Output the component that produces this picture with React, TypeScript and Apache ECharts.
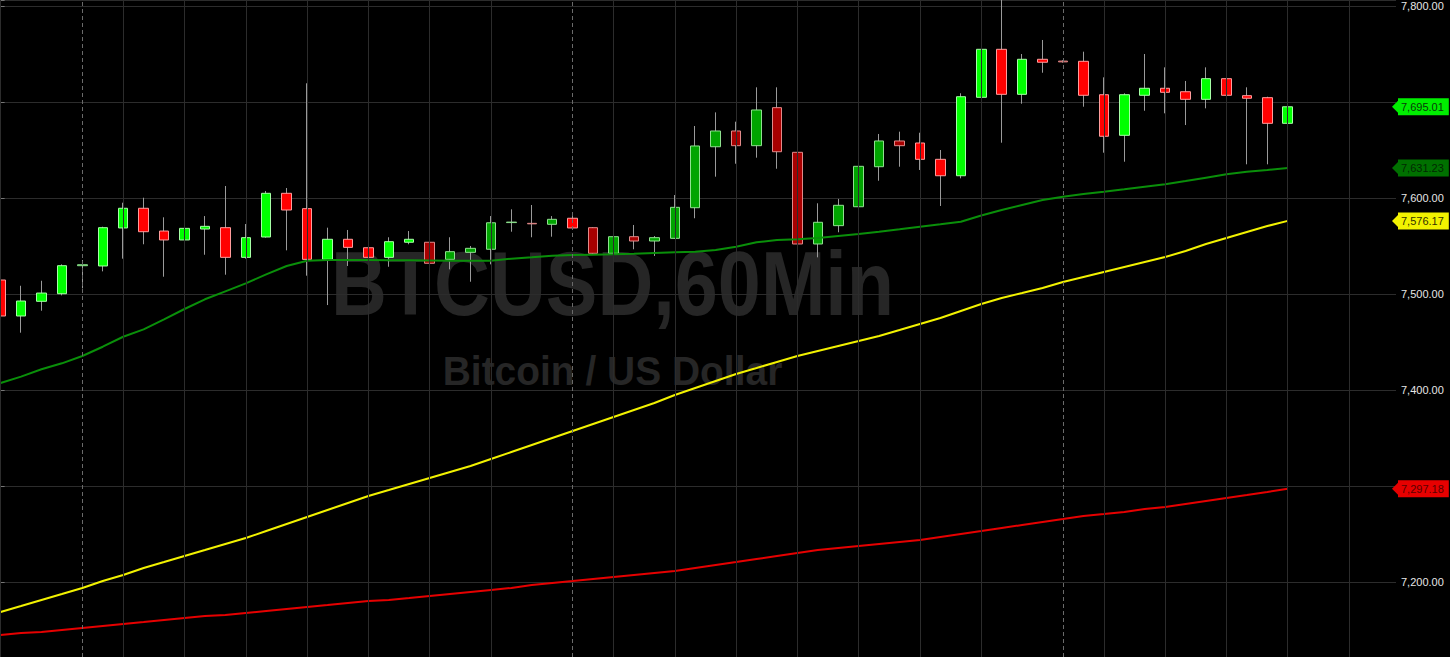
import React, { useEffect, useRef } from "react";
import * as echarts from "echarts";

// ---- data (hourly bars, index 0..63) ----
const opens = [
  7514.6, 7477.1, 7492.4, 7500.3, 7529.5, 7529.2, 7568.8, 7589.3, 7565.6, 7556.3,
  7567.7, 7569.1, 7538.2, 7559.4, 7604.9, 7588.9, 7536.1, 7557.0, 7548.2, 7538.2,
  7553.9, 7553.9, 7536.1, 7543.4, 7546.6, 7574.4, 7573.6, 7572.6, 7578.9, 7569.1,
  7542.4, 7559.7, 7555.2, 7558.0, 7589.9, 7653.4, 7669.8, 7654.5, 7694.1, 7647.6,
  7552.1, 7571.2, 7590.9, 7632.6, 7659.4, 7657.3, 7640.3, 7623.2, 7704.9, 7754.9,
  7708.0, 7744.5, 7742.6, 7742.4, 7707.6, 7665.3, 7707.0, 7714.3, 7710.7, 7702.8,
  7724.3, 7706.6, 7704.5, 7677.8,
];
const closes = [
  7477.1, 7492.7, 7501.0, 7529.5, 7530.5, 7569.1, 7589.3, 7564.9, 7556.3, 7568.4,
  7570.5, 7538.2, 7558.7, 7604.9, 7587.5, 7536.1, 7557.0, 7548.6, 7538.2, 7554.5,
  7557.0, 7532.0, 7544.1, 7547.6, 7574.2, 7574.9, 7573.1, 7577.8, 7568.8, 7542.4,
  7559.7, 7555.2, 7558.7, 7590.3, 7654.2, 7669.8, 7654.5, 7691.7, 7648.2, 7552.1,
  7574.7, 7592.4, 7633.0, 7659.4, 7654.5, 7640.3, 7623.2, 7705.5, 7754.9, 7708.0,
  7744.5, 7741.4, 7741.8, 7707.0, 7664.3, 7707.6, 7714.3, 7710.1, 7702.8, 7724.3,
  7707.0, 7703.9, 7677.8, 7695.01,
];
const lows = [
  7438.5, 7459.7, 7482.6, 7498.6, 7505.9, 7523.6, 7536.8, 7551.8, 7518.0, 7539.9,
  7540.9, 7520.1, 7536.8, 7558.7, 7545.5, 7519.1, 7488.5, 7529.2, 7530.9, 7528.4,
  7551.8, 7510.1, 7525.7, 7512.8, 7530.9, 7564.9, 7559.1, 7559.7, 7566.7, 7540.6,
  7534.4, 7546.6, 7539.6, 7557.3, 7578.9, 7622.2, 7635.7, 7642.0, 7630.5, 7489.6,
  7538.2, 7564.3, 7579.5, 7618.0, 7632.6, 7629.2, 7591.7, 7620.5, 7704.2, 7657.6,
  7698.2, 7730.5, 7741.0, 7695.1, 7647.2, 7637.8, 7690.9, 7688.2, 7676.0, 7693.4,
  7679.5, 7635.1, 7635.1, 7663.8,
];
const highs = [
  7521.9, 7508.6, 7513.8, 7530.9, 7535.4, 7570.1, 7595.1, 7600.3, 7579.9, 7577.1,
  7581.2, 7612.5, 7572.9, 7607.3, 7610.4, 7719.5, 7569.1, 7566.7, 7552.1, 7559.1,
  7565.6, 7557.0, 7559.1, 7550.0, 7581.2, 7588.2, 7592.7, 7581.2, 7581.2, 7569.8,
  7561.5, 7571.9, 7560.4, 7603.1, 7675.0, 7689.2, 7679.5, 7715.3, 7715.3, 7650.0,
  7594.5, 7599.0, 7639.6, 7666.7, 7669.1, 7668.0, 7650.0, 7709.1, 7801.0, 7812.0,
  7750.0, 7764.6, 7743.5, 7752.4, 7725.7, 7709.1, 7750.0, 7736.1, 7721.9, 7736.1,
  7737.5, 7715.3, 7705.5, 7695.8,
];
// "B" = bright candle, "D" = dim candle
const tones = [
  "B", "B", "B", "B", "D", "B", "B", "B", "B", "B",
  "B", "B", "B", "B", "B", "B", "B", "B", "B", "B",
  "B", "D", "D", "D", "D", "D", "D", "D", "B", "D",
  "D", "D", "D", "D", "D", "D", "D", "D", "D", "D",
  "D", "D", "D", "D", "D", "B", "B", "B", "B", "B",
  "B", "B", "D", "B", "B", "B", "B", "B", "B", "B",
  "B", "B", "B", "B",
];
const maFast = [
  7407.3, 7413.9, 7421.6, 7427.8, 7435.4, 7445.1, 7455.5, 7463.2, 7473.6, 7484.4,
  7494.5, 7502.8, 7511.1, 7520.5, 7529.2, 7534.7, 7535.4, 7535.4, 7535.4, 7535.1,
  7535.1, 7534.9, 7534.7, 7534.7, 7534.7, 7536.8, 7538.2, 7539.9, 7540.6, 7541.0,
  7541.4, 7542.0, 7542.7, 7543.4, 7544.1, 7545.8, 7549.3, 7553.9, 7556.3, 7557.0,
  7558.3, 7560.4, 7562.5, 7564.9, 7567.4, 7570.1, 7572.6, 7575.3, 7581.8, 7587.5,
  7592.7, 7597.9, 7601.4, 7604.2, 7606.6, 7609.1, 7611.8, 7614.3, 7617.7, 7621.2,
  7624.7, 7627.4, 7629.2, 7631.23,
];
const maMid = [
  7168.8, 7175.0, 7181.3, 7187.5, 7193.8, 7201.0, 7207.3, 7214.6, 7220.8, 7227.1,
  7233.3, 7239.6, 7245.8, 7253.1, 7260.4, 7267.7, 7275.0, 7282.3, 7289.6, 7295.8,
  7302.1, 7308.3, 7314.6, 7320.8, 7328.1, 7335.4, 7342.7, 7350.0, 7357.3, 7364.6,
  7371.9, 7379.2, 7386.5, 7394.8, 7402.1, 7409.4, 7416.7, 7422.9, 7429.2, 7435.4,
  7440.6, 7445.8, 7451.0, 7456.3, 7462.5, 7468.8, 7475.0, 7482.3, 7489.6, 7495.8,
  7501.0, 7506.3, 7512.5, 7517.7, 7522.9, 7528.1, 7533.3, 7538.5, 7544.8, 7552.1,
  7558.3, 7564.6, 7570.8, 7576.17,
];
const maSlow = [
  7144.8, 7146.9, 7147.9, 7150.0, 7152.1, 7154.2, 7156.3, 7158.3, 7160.4, 7162.5,
  7164.6, 7165.6, 7167.7, 7169.8, 7171.9, 7174.0, 7176.0, 7178.1, 7180.2, 7181.3,
  7183.3, 7185.4, 7187.5, 7189.6, 7191.7, 7193.8, 7196.9, 7199.0, 7201.0, 7203.1,
  7205.2, 7207.3, 7209.4, 7211.5, 7214.6, 7217.7, 7220.8, 7224.0, 7227.1, 7230.2,
  7233.3, 7235.4, 7237.5, 7239.6, 7241.7, 7243.8, 7246.9, 7250.0, 7253.1, 7256.3,
  7259.4, 7262.5, 7265.6, 7268.8, 7270.8, 7272.9, 7276.0, 7278.1, 7281.3, 7284.4,
  7287.5, 7290.6, 7293.8, 7297.18,
];
// vertical grid positions (bar index); day separators are dashed
const gridBars = [0, 6, 9, 12, 15, 18, 21, 24, 30, 33, 36, 39, 42, 45, 48, 54, 57, 60, 63, 66];
const daySeparators = [4, 28, 52];
const titleMain = "BTCUSD,60Min";
const titleSub = "Bitcoin / US Dollar";

const FONT = "'Liberation Sans', Arial, Helvetica, sans-serif";
const fmt = (v: number) =>
  v.toLocaleString("en-US", { minimumFractionDigits: 2, maximumFractionDigits: 2 });

const candleClasses = [
  { tone: "B", up: true, fill: "#00ff00", border: "#a6ffa6" },
  { tone: "B", up: false, fill: "#ff0000", border: "#ff9c9c" },
  { tone: "D", up: true, fill: "#00a400", border: "#8fe08f" },
  { tone: "D", up: false, fill: "#a80000", border: "#e08a8a" },
];

export default function App() {
  const ref = useRef<HTMLDivElement>(null);
  useEffect(() => {
    if (!ref.current) return;
    const chart = echarts.init(ref.current, undefined, { renderer: "svg" });
    const n = closes.length;
    const isUp = (i: number) =>
      closes[i] > opens[i] || (closes[i] === opens[i] && (i === 0 || closes[i] >= closes[i - 1]));
    const wickData = opens.map((o, i) => [i, o, closes[i], lows[i], highs[i]]);

    const tags = [
      { value: closes[n - 1], bg: "#00ee00", fg: "#0a3a0a" },
      { value: maFast[n - 1], bg: "#007000", fg: "#022a02" },
      { value: maMid[n - 1], bg: "#f2f200", fg: "#333300" },
      { value: maSlow[n - 1], bg: "#e60000", fg: "#5a0000" },
    ];

    const bodySeries = candleClasses.map((cls) => ({
      type: "candlestick",
      z: 3,
      barWidth: 10,
      silent: true,
      itemStyle: {
        color: cls.fill,
        color0: cls.fill,
        borderColor: cls.border,
        borderColor0: cls.border,
        borderWidth: 1,
      },
      data: opens
        .map((o, i) => ({ i, o }))
        .filter(({ i }) => tones[i] === cls.tone && isUp(i) === cls.up)
        .map(({ i, o }) => [i, o, closes[i], Math.min(o, closes[i]), Math.max(o, closes[i])]),
    }));

    const maLine = (vals: number[], color: string) => ({
      type: "line",
      data: vals.map((v, i) => [i, v]),
      z: 4,
      showSymbol: false,
      silent: true,
      lineStyle: { color, width: 2 },
    });

    chart.setOption({
      animation: false,
      backgroundColor: "#000000",
      grid: { left: 0, right: 54, top: 0, bottom: 0, containLabel: false },
      xAxis: {
        type: "value",
        min: -0.03,
        max: 68.3,
        show: false,
        splitLine: { show: false },
      },
      yAxis: {
        type: "value",
        position: "right",
        min: 7121.9,
        max: 7806.25,
        splitNumber: 7,
        axisLine: { show: true, lineStyle: { color: "#c40000", width: 1 } },
        axisTick: { show: true, length: 4, lineStyle: { color: "#777" } },
        axisLabel: {
          color: "#e6e6e6",
          fontFamily: FONT,
          fontSize: 11,
          margin: 5,
          formatter: (v: number) => {
            const isRound = Math.abs(v / 100 - Math.round(v / 100)) < 1e-6;
            const hidden = tags.some((t) => Math.abs(t.value - v) < 15);
            return isRound && !hidden ? fmt(v) : "";
          },
        },
        splitLine: { show: true, lineStyle: { color: "#2c2c2c", width: 1 } },
      },
      graphic: [
        {
          type: "text",
          x: 612.5,
          y: 284,
          scaleX: 0.86,
          z: 0,
          silent: true,
          style: {
            text: titleMain,
            fill: "#262626",
            font: `bold 90px ${FONT}`,
            textAlign: "center",
            textVerticalAlign: "middle",
            align: "center",
            verticalAlign: "middle",
          },
        },
        {
          type: "text",
          x: 612.5,
          y: 371,
          scaleX: 0.95,
          z: 0,
          silent: true,
          style: {
            text: titleSub,
            fill: "#262626",
            font: `bold 41px ${FONT}`,
            textAlign: "center",
            textVerticalAlign: "middle",
            align: "center",
            verticalAlign: "middle",
          },
        },
      ],
      series: [
        {
          type: "line",
          data: [],
          z: 1,
          silent: true,
          markLine: {
            silent: true,
            symbol: ["none", "none"],
            label: { show: false },
            data: [
              ...gridBars.map((b) => ({ xAxis: b, lineStyle: { color: "#2c2c2c", type: "solid", width: 1 } })),
              ...daySeparators.map((b) => ({ xAxis: b, lineStyle: { color: "#6a6a6a", type: [4, 3], width: 1 } })),
            ],
          },
        },
        {
          type: "candlestick",
          data: wickData,
          z: 2,
          barWidth: 0.6,
          silent: true,
          itemStyle: { color: "#9a9a9a", color0: "#9a9a9a", borderColor: "#9a9a9a", borderColor0: "#9a9a9a", borderWidth: 1 },
        },
        ...bodySeries,
        maLine(maSlow, "#e60000"),
        maLine(maMid, "#f2f200"),
        maLine(maFast, "#0a8f0a"),
        {
          type: "line",
          data: [],
          z: 6,
          silent: true,
          markLine: {
            silent: true,
            symbol: ["none", "triangle"],
            symbolSize: [16, 8],
            symbolRotate: 90,
            symbolOffset: [0, 0],
            data: tags.map((t) => ({
              yAxis: t.value,
              lineStyle: { color: t.bg, width: 0.01, opacity: 1 },
              itemStyle: { color: t.bg },
              label: {
                show: true,
                position: "end",
                distance: 2,
                formatter: fmt(t.value),
                backgroundColor: t.bg,
                color: t.fg,
                fontFamily: FONT,
                fontSize: 11,
                lineHeight: 12,
                padding: [3, 5, 2, 3],
              },
            })),
          },
        },
      ],
    });
    return () => chart.dispose();
  }, []);
  return (
    <div
      ref={ref}
      style={{ position: "fixed", left: 0, top: 0, width: 1450, height: 657, background: "#000" }}
    />
  );
}
